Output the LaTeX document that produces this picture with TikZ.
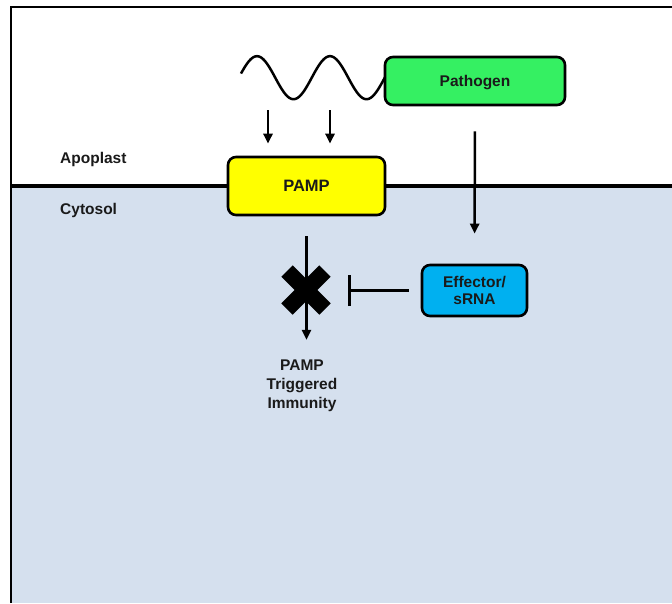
\documentclass[tikz,border=0pt]{standalone}
\usepackage{fontspec}
\setmainfont{Liberation Sans}
\usetikzlibrary{arrows.meta}
\definecolor{cyto}{HTML}{D5E0EE}
\definecolor{pgreen}{HTML}{35F062}
\definecolor{pyellow}{HTML}{FFFF00}
\definecolor{eblue}{HTML}{00B0F0}
\definecolor{txt}{HTML}{1A1A1A}
\begin{document}
\begin{tikzpicture}[x=1pt,y=-1pt,
  box/.style={draw=black,line width=2.6pt,rounded corners=8pt,align=center,text=txt,
    font=\fontsize{15.5}{17}\selectfont\bfseries,inner sep=0pt},
  lbl/.style={font=\fontsize{15.5}{19}\selectfont\bfseries,align=center,inner sep=0pt,text=txt},
  arr/.style={line width=2.5pt,-{Triangle[width=9pt,length=10pt]}},
  inh/.style={line width=2.5pt,-{Bar[width=31pt,line width=2.8pt]}}]
\useasboundingbox (0,0) rectangle (672,603);
% background
\fill[white] (0,0) rectangle (672,603);
\fill[cyto] (12,186) rectangle (672,603);
% frame
\draw[line width=2.5pt] (11,603) -- (11,7) -- (672,7);
% membrane
\draw[line width=3.5pt] (11,186) -- (672,186);
% nodes
\node[box,fill=pgreen,minimum width=180pt,minimum height=48pt] (pathogen) at (475,81) {};
\node[lbl] at ([yshift=-1.5pt]pathogen.center) {Pathogen};
\node[box,fill=pyellow,minimum width=157pt,minimum height=58pt,font=\fontsize{16.5}{18}\selectfont\bfseries] (pamp) at (306.5,186) {PAMP};
\node[box,fill=eblue,minimum width=105pt,minimum height=51pt] (effector) at (474.5,290.5) {Effector/\\sRNA};
\node[lbl,anchor=west] (apo) at (60,159) {Apoplast};
\node[lbl,anchor=west] (cyt) at (60,210) {Cytosol};
\node[lbl] (pti) at (302,386) {PAMP\\Triggered\\Immunity};
% wave
\draw[line width=2.5pt] plot[domain=241:385,samples=120,smooth] (\x,{77.7-21.5*sin((\x-238.75)*4.9315)});
\coordinate (w1) at (268,110);
\coordinate (w2) at (330,110);
\draw[arr,shorten >=12pt] (w1) -- (w1 |- pamp.north);
\draw[arr,shorten >=12pt] (w2) -- (w2 |- pamp.north);
% pathogen to effector
\draw[arr,shorten <=25pt,shorten >=30pt] (pathogen.south) -- (effector.north);
% PAMP to PTI
\draw[arr,shorten <=20pt,shorten >=20pt] (pamp.south) -- (pamp.south |- pti.north);
% X mark
\coordinate (xm) at (306,290);
\draw[line width=16pt] ([shift={(-19,-19)}]xm) -- ([shift={(19,19)}]xm);
\draw[line width=16pt] ([shift={(-19,19)}]xm) -- ([shift={(19,-19)}]xm);
% inhibition
\coordinate (inhend) at (348,290.5);
\draw[inh,shorten <=12pt] (effector.west) -- (inhend);
\end{tikzpicture}
\end{document}
